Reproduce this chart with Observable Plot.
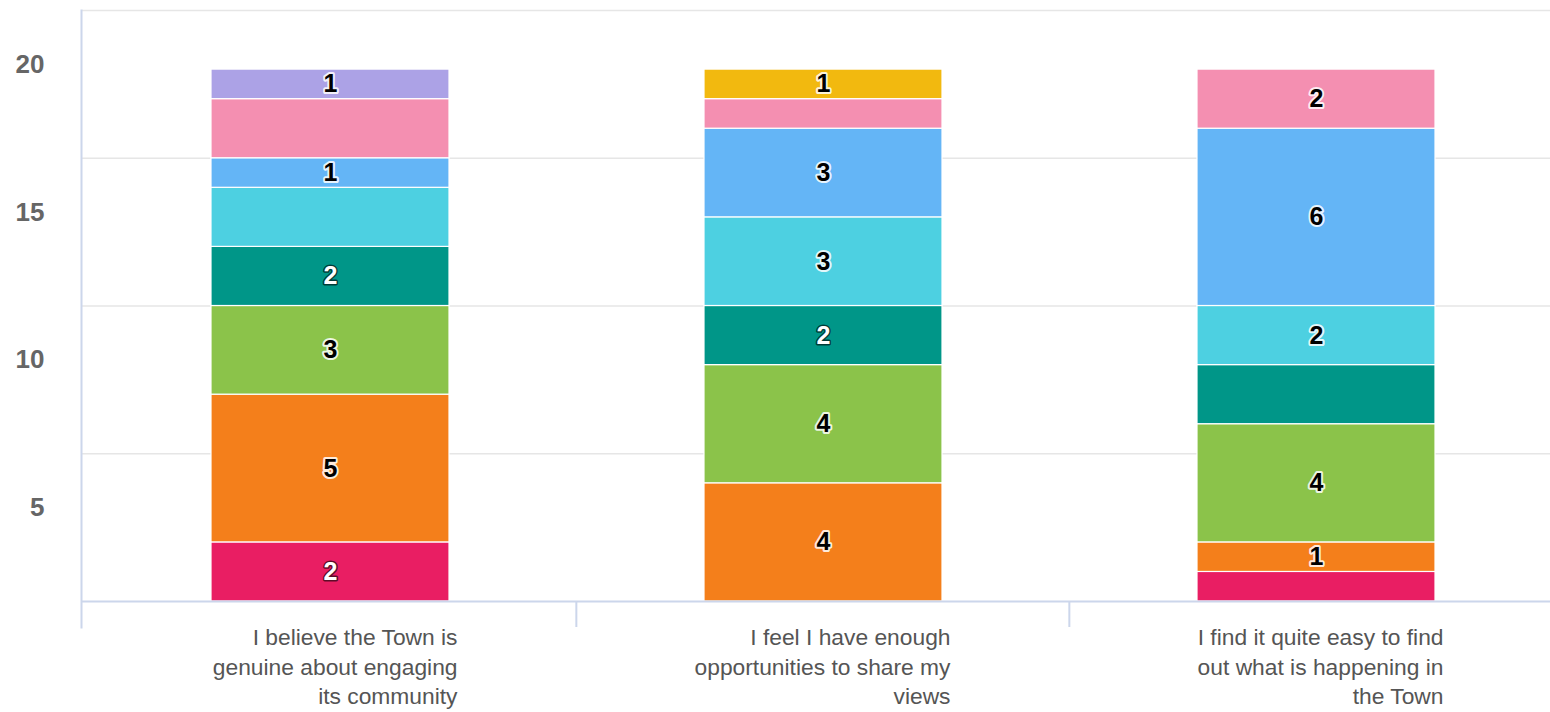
<!DOCTYPE html>
<html>
<head>
<meta charset="utf-8">
<script src="https://cdn.jsdelivr.net/npm/d3@7"></script>
<script src="https://cdn.jsdelivr.net/npm/@observablehq/plot@0.6"></script>
<style>
html, body { margin: 0; padding: 0; background: #fff; overflow: hidden; }
</style>
</head>
<body>
<div id="chart"></div>
<script>
// ---- Data ----
const categories = [
  "I believe the Town is genuine about engaging its community",
  "I feel I have enough opportunities to share my views",
  "I find it quite easy to find out what is happening in the Town"
];
const categoryLabels = [
  "I believe the Town is\ngenuine about engaging\nits community",
  "I feel I have enough\nopportunities to share my\nviews",
  "I find it quite easy to find\nout what is happening in\nthe Town"
];
const seriesNames = ["Series 1", "Series 2", "Series 3", "Series 4", "Series 5", "Series 6", "Series 7", "Series 8", "Series 9"];
const seriesColors = ["#E91E63", "#F47F1B", "#8BC34A", "#009688", "#4DD0E1", "#64B5F6", "#F48FB1", "#ACA2E6", "#F2B90F"];
// values per category (bottom to top in stacking order)
const series1 = [2, 0, 1];
const series2 = [5, 4, 1];
const series3 = [3, 4, 4];
const series4 = [2, 2, 2];
const series5 = [2, 3, 2];
const series6 = [1, 3, 6];
const series7 = [2, 1, 2];
const series8 = [1, 0, 0];
const series9 = [0, 1, 0];
// data labels not shown in the original (series index, category index)
const hiddenLabels = [[4, 0], [6, 0], [6, 1], [0, 2], [3, 2]];
// series drawn with white labels (dark backgrounds)
const darkSeries = ["Series 1", "Series 4"];
const yTicks = [5, 10, 15, 20];
const gridValues = [5, 10, 15, 20];

const seriesValues = [series1, series2, series3, series4, series5, series6, series7, series8, series9];
const rows = [];
seriesValues.forEach((vals, i) => {
  vals.forEach((v, j) => {
    if (v > 0) rows.push({
      series: seriesNames[i],
      category: categories[j],
      value: v,
      show: !hiddenLabels.some(([a, b]) => a === i && b === j),
      dark: darkSeries.includes(seriesNames[i])
    });
  });
});

// ---- Layout ----
const W = 1563, H = 712;
const mL = 82, mR = 0, mT = 10, mB = 111;
const plotW = W - mL - mR;
const font = "'Liberation Sans', Arial, Helvetica, sans-serif";

const chart = Plot.plot({
  width: W,
  height: H,
  marginLeft: mL,
  marginRight: mR,
  marginTop: mT,
  marginBottom: mB,
  style: { fontFamily: font, background: "#fff", maxWidth: "none" },
  x: { domain: categories, paddingInner: 0.518, paddingOuter: 0.259, axis: null },
  y: { domain: [0, 20], axis: null },
  color: { domain: seriesNames, range: seriesColors },
  marks: [
    Plot.ruleY(gridValues, { stroke: "#e6e6e6", strokeWidth: 1.5 }),
    Plot.barY(rows, Plot.stackY({
      x: "category", y: "value", fill: "series",
      stroke: "#fff", strokeWidth: 1.2
    })),
    Plot.text(rows, Plot.stackY({
      x: "category", y: "value", z: "series",
      text: d => (d.show && !d.dark) ? String(d.value) : null,
      fill: "#000", stroke: "#fff", strokeWidth: 4, strokeOpacity: 0.85,
      fontSize: 25, fontWeight: "bold"
    })),
    Plot.text(rows, Plot.stackY({
      x: "category", y: "value", z: "series",
      text: d => (d.show && d.dark) ? String(d.value) : null,
      fill: "#fff", stroke: "#000", strokeWidth: 3, strokeOpacity: 0.6,
      fontSize: 25, fontWeight: "bold"
    })),
    Plot.ruleY([0], { stroke: "#ccd6eb", strokeWidth: 2 }),
    Plot.frame({ anchor: "left", stroke: "#ccd6eb", strokeWidth: 2, insetBottom: -26, dx: -1 }),
    Plot.ruleX(categories.slice(0, categories.length - 1), {
      x: d => d, dx: plotW / 6 - 1, y1: 0, y2: 0, insetBottom: -26,
      stroke: "#ccd6eb", strokeWidth: 2
    }),
    Plot.axisY({
      ticks: yTicks, tickSize: 0, tickPadding: 38, dy: 54,
      fontSize: 26, fontWeight: "bold", color: "#666", label: null
    }),
    Plot.axisX({
      tickSize: 0, tickPadding: 22,
      tickFormat: d => categoryLabels[categories.indexOf(d)],
      textAnchor: "end", dx: 127, lineHeight: 1.31,
      fontSize: 22.8, color: "#555", label: null
    })
  ]
});
document.getElementById("chart").appendChild(chart);
</script>
</body>
</html>
